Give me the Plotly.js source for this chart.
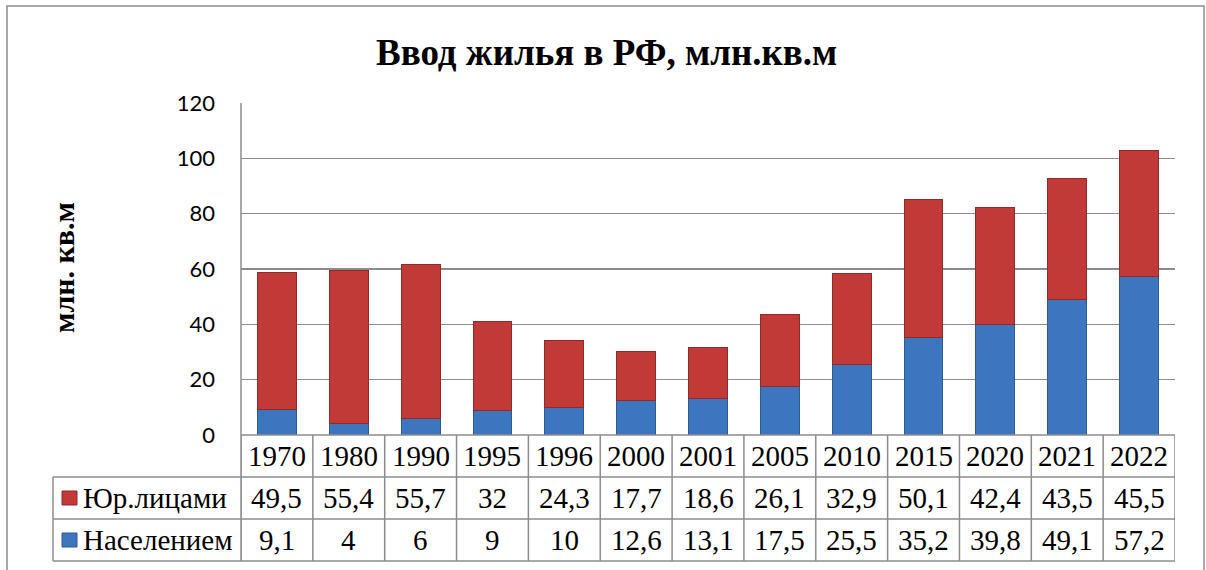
<!DOCTYPE html>
<html>
<head>
<meta charset="utf-8">
<script src="https://cdn.plot.ly/plotly-3.0.1.min.js"></script>
<style>html,body{margin:0;padding:0;background:#fff;}#chart{width:1206px;height:570px;}</style>
</head>
<body>
<div id="chart"></div>
<script>
var years = ['1970','1980','1990','1995','1996','2000','2001','2005','2010','2015','2020','2021','2022'];
var legalEntities = [49.5, 55.4, 55.7, 32, 24.3, 17.7, 18.6, 26.1, 32.9, 50.1, 42.4, 43.5, 45.5];
var population = [9.1, 4, 6, 9, 10, 12.6, 13.1, 17.5, 25.5, 35.2, 39.8, 49.1, 57.2];
var seriesNames = ['Юр.лицами', 'Населением'];
var yTicks = [0, 20, 40, 60, 80, 100, 120];

var W = 1206, H = 570;
var L = 241, R = 1175, T = 103, B = 435;
function px(p){ return (p - L) / (R - L); }
function py(p){ return (B - p) / (B - T); }
var rowTop = [435, 477, 519, 561];
var gray = '#8c8c8c';

function fmt(v){ return String(v).replace('.', ','); }

var traces = [
  {type:'bar', name: seriesNames[1], x: years, y: population,
   marker:{color:'#3d76bf', line:{color:'#2c5a92', width:1}}, hoverinfo:'skip'},
  {type:'bar', name: seriesNames[0], x: years, y: legalEntities,
   marker:{color:'#c13a37', line:{color:'#8e2a28', width:1}}, hoverinfo:'skip'}
];

var shapes = [];
var ann = [];
// outer frame
shapes.push({type:'rect', xref:'paper', yref:'paper', x0:px(7), x1:px(1204), y0:py(600), y1:py(6), line:{color:gray, width:1.5}, layer:'below'});
// table horizontal lines
shapes.push({type:'line', xref:'paper', yref:'paper', x0:px(L), x1:px(R), y0:py(rowTop[0]), y1:py(rowTop[0]), line:{color:gray, width:1.5}});
for (var r = 1; r < 4; r++) {
  shapes.push({type:'line', xref:'paper', yref:'paper', x0:px(53), x1:px(R), y0:py(rowTop[r]), y1:py(rowTop[r]), line:{color:gray, width:1.5}});
}
// left legend column border
shapes.push({type:'line', xref:'paper', yref:'paper', x0:px(53), x1:px(53), y0:py(rowTop[1]), y1:py(rowTop[3]), line:{color:gray, width:1.5}});
// category boundaries
for (var i = 0; i <= years.length; i++) {
  shapes.push({type:'line', xref:'x', yref:'paper', x0:i-0.5, x1:i-0.5, y0:py(rowTop[0]), y1:py(rowTop[3]), line:{color:gray, width:1.5}});
}
// y axis line extended down into table
shapes.push({type:'line', xref:'paper', yref:'paper', x0:0, x1:0, y0:1, y1:py(rowTop[3]), line:{color:gray, width:1.5}});

var serif = 'Liberation Serif, Times New Roman, serif';
var tf = {family:serif, size:29, color:'#000'};
// category labels & values (x = category index on the x axis)
for (var j = 0; j < years.length; j++) {
  ann.push({xref:'x', yref:'paper', x:j, y:py((rowTop[0]+rowTop[1])/2), text:years[j], showarrow:false, font:tf, xanchor:'center', yanchor:'middle'});
  ann.push({xref:'x', yref:'paper', x:j, y:py((rowTop[1]+rowTop[2])/2), text:fmt(legalEntities[j]), showarrow:false, font:tf, xanchor:'center', yanchor:'middle'});
  ann.push({xref:'x', yref:'paper', x:j, y:py((rowTop[2]+rowTop[3])/2), text:fmt(population[j]), showarrow:false, font:tf, xanchor:'center', yanchor:'middle'});
}
// legend keys and labels
var keyColors = ['#c13a37', '#3d76bf'];
var keyLines = ['#8e2a28', '#2c5a92'];
for (var k = 0; k < 2; k++) {
  var cy = (rowTop[k+1] + rowTop[k+2]) / 2;
  shapes.push({type:'rect', xref:'paper', yref:'paper', x0:px(62), x1:px(77), y0:py(cy+7), y1:py(cy-7), fillcolor:keyColors[k], line:{color:keyLines[k], width:1}});
  ann.push({xref:'paper', yref:'paper', x:px(81), y:py(cy), text:seriesNames[k], showarrow:false, font:tf, xanchor:'left', yanchor:'middle'});
}
// title
ann.push({xref:'paper', yref:'paper', x:px(606), y:py(52), text:'<b>Ввод жилья в РФ, млн.кв.м</b>', showarrow:false, font:{family:serif, size:37, color:'#000'}, xanchor:'center', yanchor:'middle'});
// y axis title
ann.push({xref:'paper', yref:'paper', x:px(63), y:py(268), text:'<b>млн. кв.м</b>', textangle:-90, showarrow:false, font:{family:serif, size:30, color:'#000'}, xanchor:'center', yanchor:'middle'});

var layout = {
  width: W, height: H,
  margin: {l: L, r: W - R, t: T, b: H - B, pad: 0},
  paper_bgcolor: '#fff', plot_bgcolor: '#fff',
  barmode: 'stack', bargap: 0.46,
  showlegend: false,
  xaxis: {type:'category', range:[-0.5, years.length - 0.5], showticklabels:false, ticks:'', showgrid:false, zeroline:false, showline:false, fixedrange:true},
  yaxis: {range:[0,120], tickvals:yTicks, ticktext:yTicks.map(String), showgrid:true, gridcolor:gray, gridwidth:1.5, zeroline:false, showline:false, ticks:'', ticklabelstandoff:25, tickfont:{family:'Lato, Open Sans, sans-serif', size:22, color:'#000'}, fixedrange:true},
  shapes: shapes,
  annotations: ann
};

Plotly.newPlot('chart', traces, layout, {staticPlot:true, displayModeBar:false});
</script>
</body>
</html>
